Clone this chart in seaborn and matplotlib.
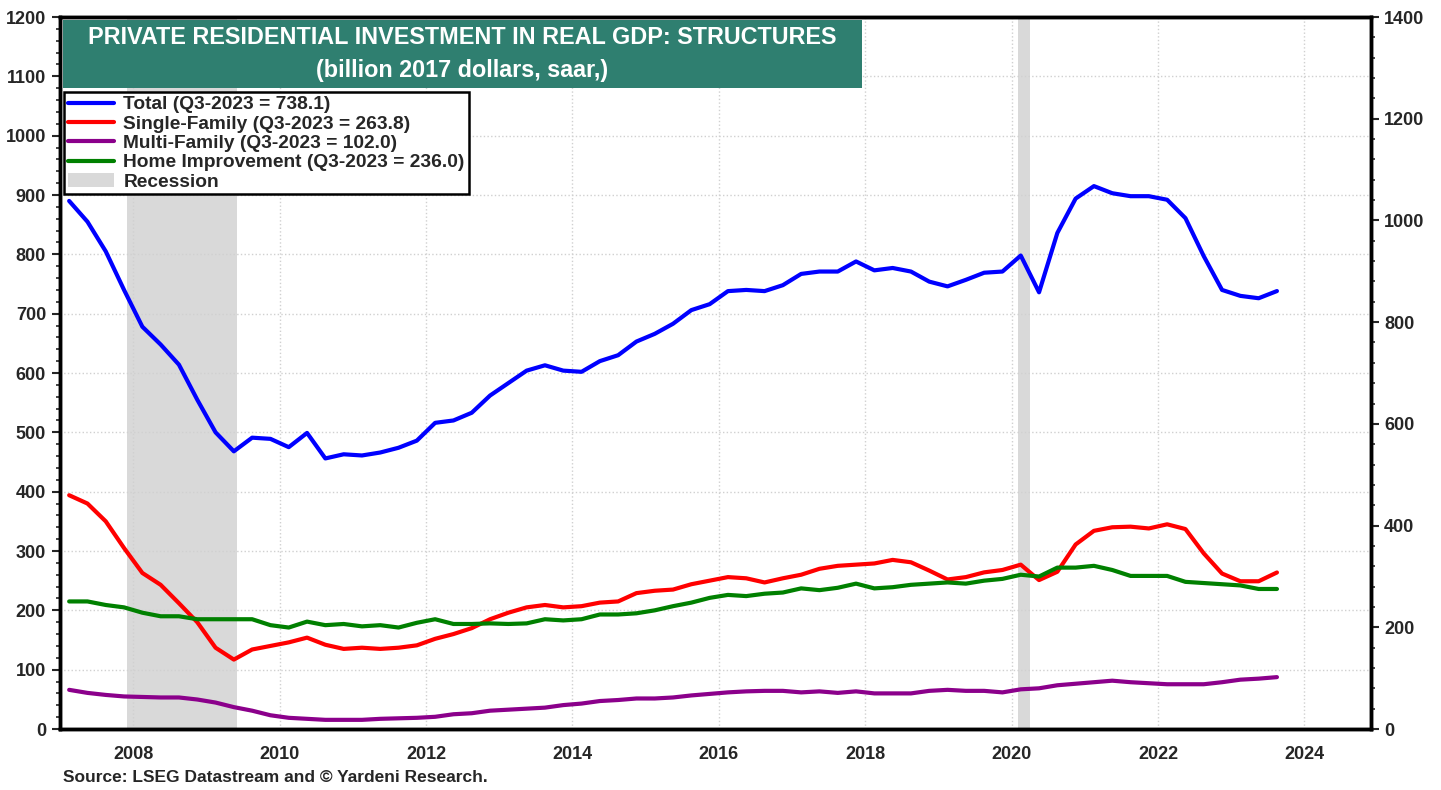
import numpy as np
import pandas as pd
import matplotlib
matplotlib.use('Agg')
import matplotlib.pyplot as plt
from matplotlib.ticker import MultipleLocator
from matplotlib.patches import Patch
from matplotlib.lines import Line2D
import seaborn as sns

sns.set_style('white')
plt.rcParams['font.family'] = ['Liberation Sans', 'DejaVu Sans']
plt.rcParams['font.weight'] = 'bold'

# quarterly data, 2007Q1 .. 2023Q3
start_year = 2007
total = [890, 855, 805, 740, 678, 648, 614, 555, 500, 468, 491, 489,
         475, 499, 456, 463, 461, 466, 474, 486, 516, 520, 533, 562,
         583, 604, 613, 604, 602, 620, 630, 653, 666, 683, 706, 716,
         738, 740, 738, 748, 767, 771, 771, 788, 773, 777, 771, 754,
         746, 757, 769, 771, 798, 736, 836, 894, 915, 903, 898, 898,
         892, 861, 797, 740, 730, 726, 738.1]
single_family = [394, 380, 350, 305, 263, 243, 212, 180, 137, 117, 134, 140,
                 146, 154, 142, 135, 137, 135, 137, 141, 152, 160, 170, 185,
                 196, 205, 209, 205, 207, 213, 215, 229, 233, 235, 244, 250,
                 256, 254, 247, 254, 260, 270, 275, 277, 279, 285, 281, 267,
                 252, 256, 264, 268, 277, 251, 265, 311, 334, 340, 341, 338,
                 345, 337, 296, 262, 249, 249, 263.8]
multi_family = [77, 71, 67, 64, 63, 62, 62, 58, 52, 43, 36, 27,
                22, 20, 18, 18, 18, 20, 21, 22, 24, 29, 31, 36,
                38, 40, 42, 47, 50, 55, 57, 60, 60, 62, 66, 69,
                72, 74, 75, 75, 72, 74, 71, 74, 70, 70, 70, 75,
                77, 75, 75, 72, 78, 80, 86, 89, 92, 95, 92, 90,
                88, 88, 88, 92, 97, 99, 102.0]
home_improvement = [215, 215, 209, 205, 196, 190, 190, 185, 185, 185, 185, 175,
                    171, 181, 175, 177, 173, 175, 171, 179, 185, 177, 177, 178,
                    177, 178, 185, 183, 185, 193, 193, 195, 200, 207, 213, 221,
                    226, 224, 228, 230, 237, 234, 238, 245, 237, 239, 243, 245,
                    247, 245, 250, 253, 260, 257, 272, 272, 275, 268, 258, 258,
                    258, 248, 246, 244, 242, 236, 236.0]
recessions = [(2007.917, 2009.417), (2020.09, 2020.25)]

labels = ['Total (Q3-2023 = 738.1)', 'Single-Family (Q3-2023 = 263.8)',
          'Multi-Family (Q3-2023 = 102.0)', 'Home Improvement (Q3-2023 = 236.0)']
colors = ['#0000FF', '#FF0000', '#8B008B', '#008000']

n = len(total)
t = start_year + 0.125 + 0.25 * np.arange(n)
df = pd.DataFrame({'t': t, 'total': total, 'single': single_family,
                   'multi': multi_family, 'home': home_improvement})

fig = plt.figure(figsize=(14.41, 7.90), dpi=100)
ax = fig.add_axes([60 / 1441, 61 / 790, 1311 / 1441, 712 / 790])
ax2 = ax.twinx()

for a, b in recessions:
    ax.axvspan(a, b, color='#D9D9D9', lw=0, zorder=0)

sns.lineplot(data=df, x='t', y='total', ax=ax, color=colors[0], lw=3)
sns.lineplot(data=df, x='t', y='single', ax=ax, color=colors[1], lw=3)
sns.lineplot(data=df, x='t', y='home', ax=ax, color=colors[3], lw=3)
sns.lineplot(data=df, x='t', y='multi', ax=ax2, color=colors[2], lw=3)

ax.set_xlim(2007.0, 2024.91)
ax.set_ylim(0, 1200)
ax2.set_ylim(0, 1400)
for a in (ax, ax2):
    a.set_xlabel('')
    a.set_ylabel('')
    for s in a.spines.values():
        s.set_linewidth(2.5)
        s.set_color('black')

ax.xaxis.set_major_locator(MultipleLocator(2))
ax.xaxis.set_minor_locator(MultipleLocator(0.25))
ax.yaxis.set_major_locator(MultipleLocator(100))
ax.yaxis.set_minor_locator(MultipleLocator(20))
ax2.yaxis.set_major_locator(MultipleLocator(200))
ax2.yaxis.set_minor_locator(MultipleLocator(40))

ax.tick_params(axis='both', which='major', direction='out', length=6, width=1.5,
               labelsize=13, pad=4)
ax.tick_params(axis='both', which='minor', direction='out', length=3, width=1.2)
ax.tick_params(axis='x', which='major', pad=6)
ax2.tick_params(axis='y', which='major', direction='out', length=6, width=1.5, labelsize=13)
ax2.tick_params(axis='y', which='minor', direction='out', length=3, width=1.2)
for lab in ax.get_xticklabels() + ax.get_yticklabels() + ax2.get_yticklabels():
    lab.set_fontweight('bold')

ax.grid(True, which='major', linestyle=':', color='#D0D0D0', lw=1)

# title box
box = plt.Rectangle((63 / 1441, 1 - 88 / 790), 799 / 1441, 68 / 790,
                    transform=fig.transFigure, facecolor='#2F7F70',
                    edgecolor='none', zorder=5)
fig.patches.append(box)
cx = (63 + 862) / 2 / 1441
fig.text(cx, 1 - 38 / 790, 'PRIVATE RESIDENTIAL INVESTMENT IN REAL GDP: STRUCTURES',
         color='white', fontsize=16.8, fontweight='bold', ha='center', va='center', zorder=6)
fig.text(cx, 1 - 70 / 790, '(billion 2017 dollars, saar,)',
         color='white', fontsize=16.8, fontweight='bold', ha='center', va='center', zorder=6)

handles = [Line2D([], [], color=c, lw=3) for c in colors]
handles.append(Patch(facecolor='#D9D9D9', edgecolor='none'))
leg = ax2.legend(handles, labels + ['Recession'], loc='upper left',
                 bbox_to_anchor=(4 / 1311, 1 - 75 / 712), frameon=True, fancybox=False,
                 framealpha=1, edgecolor='black', prop={'weight': 'bold', 'size': 13.8},
                 handlelength=2.4, handletextpad=0.5, borderpad=0.2, labelspacing=0.1,
                 borderaxespad=0)
leg.get_frame().set_linewidth(1.8)

fig.text(63 / 1441, 1 - 777 / 790, 'Source: LSEG Datastream and \u00a9 Yardeni Research.',
         fontsize=12.5, fontweight='bold', ha='left', va='center')

fig.savefig('out.png', dpi=100)
